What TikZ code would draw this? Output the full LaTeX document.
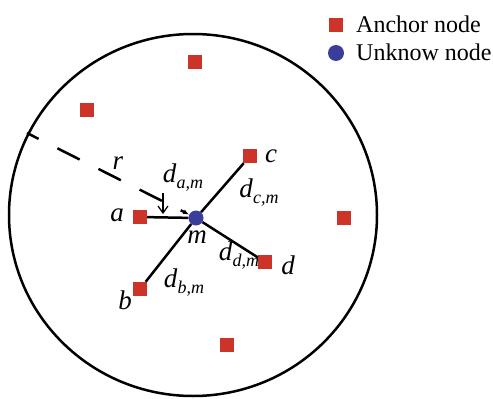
\documentclass[tikz,border=0pt]{standalone}
\usepackage{fontspec}
\setmainfont{Liberation Serif}
\usetikzlibrary{arrows.meta}
\definecolor{anchorred}{RGB}{204,52,42}
\definecolor{unkblue}{RGB}{58,62,154}
\newcommand{\lbl}[2]{\textit{#1}\raisebox{-6pt}{\fontsize{18}{18}\selectfont\textit{#2}}}
\begin{document}
\begin{tikzpicture}[x=1pt,y=-1pt,
  anchorsq/.style={fill=anchorred,draw=none,minimum size=14pt,inner sep=0pt,rectangle},
  unk/.style={fill=unkblue,draw=none,circle,minimum size=15pt,inner sep=0pt},
  link/.style={line width=2.5pt,black},
  lab/.style={font=\fontsize{27}{28}\selectfont\itshape,inner sep=0pt},
  dlab/.style={font=\fontsize{27}{28}\selectfont,inner sep=0pt},
  legtxt/.style={font=\fontsize{24}{26}\selectfont,anchor=west,inner sep=0pt}]
\useasboundingbox (0,0) rectangle (493,399);
\draw[line width=2.5pt] (193,215) ellipse [x radius=184, y radius=181];
% nodes
\node[unk] (m) at (196,218) {};
\node[anchorsq] (a) at (140,217) {};
\node[anchorsq] (b) at (140,289) {};
\node[anchorsq] (c) at (250,156) {};
\node[anchorsq] (d) at (265,262) {};
\node[anchorsq] (e1) at (195,62) {};
\node[anchorsq] (e2) at (87,110) {};
\node[anchorsq] (e3) at (344,218) {};
\node[anchorsq] (e4) at (227,345) {};
% links
\draw[link] (a) -- (m);
\draw[link] (b) -- (m);
\draw[link] (c) -- (m);
\draw[link] (d) -- (m);
% radius
\coordinate (rs) at (27,133);
\draw[line width=2.5pt,dash pattern=on 25pt off 21pt,dash phase=12pt,-{Latex[length=6pt,width=5pt]}] (rs) -- (m);
% labels
\node[lab] (la) at (117,215) {a};
\node[lab] (lb) at (125,300) {b};
\node[lab] (lc) at (271,156) {c};
\node[lab] (ld) at (288,265) {d};
\node[lab] (lm) at (197,237) {m};
\node[lab] (lr) at (118,163) {r};
\node[dlab] (dam) at (183,178) {\lbl{d}{a,m}};
\node[dlab] (dcm) at (259,193) {\lbl{d}{c,m}};
\node[dlab] (ddm) at (239,256) {\lbl{d}{d,m}};
\node[dlab] (dbm) at (184,283) {\lbl{d}{b,m}};
\coordinate (arrtip) at (163,214);
\draw[line width=1.2pt,-{Straight Barb[length=7pt,width=10pt]}] (163,193) -- (arrtip);
% legend
\node[anchorsq] (lsq) at (336,25) {};
\node[unk,minimum size=16pt] (lci) at (336,53) {};
\node[legtxt] (t1) at (356,24) {Anchor node};
\node[legtxt] (t2) at (356,52) {Unknow node};
\end{tikzpicture}
\end{document}
